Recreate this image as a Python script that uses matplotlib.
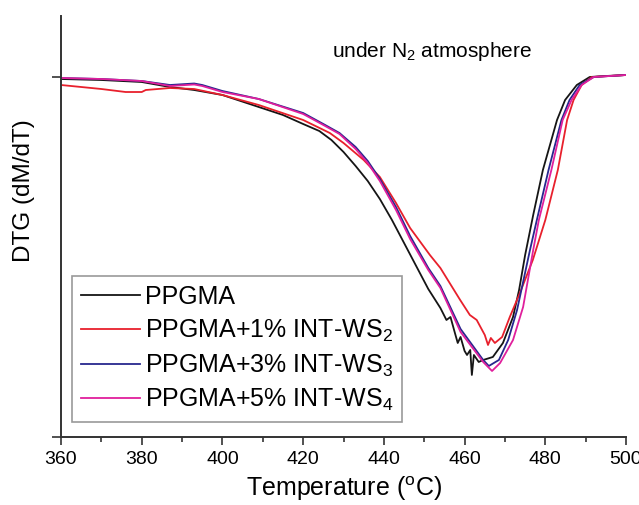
import numpy as np
import matplotlib
matplotlib.use('Agg')
import matplotlib.pyplot as plt
from matplotlib.ticker import MultipleLocator

plt.rcParams['font.family'] = ['Liberation Sans', 'DejaVu Sans']
plt.rcParams['mathtext.fontset'] = 'custom'
plt.rcParams['mathtext.rm'] = 'Liberation Sans'
plt.rcParams['mathtext.it'] = 'Liberation Sans:italic'
plt.rcParams['mathtext.bf'] = 'Liberation Sans:bold'

# DTG curves (arbitrary units, 0 = upper tick)
t_ppgma = [360, 370, 380, 387, 393, 400, 409, 415, 420, 424, 427, 430, 433, 436, 439,
           442, 445, 448, 451, 454, 455.5, 456.5, 457.6, 458.3, 459, 460, 460.6, 461.4,
           461.8, 462.3, 463.5, 464.6, 467, 469.5, 472, 473.5, 475, 477, 479.4, 482.9,
           484.9, 487.8, 491, 495, 500]
dtg_ppgma = [-0.02, -0.03, -0.05, -0.10, -0.13, -0.18, -0.30, -0.38, -0.47, -0.54, -0.63,
             -0.75, -0.89, -1.04, -1.22, -1.43, -1.66, -1.89, -2.12, -2.31, -2.43, -2.40,
             -2.56, -2.66, -2.60, -2.74, -2.78, -2.73, -2.98, -2.78, -2.85, -2.83, -2.80,
             -2.66, -2.40, -2.13, -1.78, -1.38, -0.93, -0.43, -0.23, -0.08, 0.00, 0.01,
             0.02]

t_ws2 = [360, 370, 376, 380, 381, 387, 393, 400, 409, 420, 426.6, 430, 435, 439, 443,
         446.5, 451.4, 454, 458.9, 461.3, 463, 465, 465.8, 466.5, 467.5, 469.3, 471.2,
         473.7, 476.9, 480, 483.1, 485.4, 487, 489, 491.5, 500]
dtg_ws2 = [-0.08, -0.12, -0.15, -0.15, -0.13, -0.11, -0.12, -0.18, -0.28, -0.43, -0.56,
           -0.66, -0.83, -1.00, -1.26, -1.51, -1.78, -1.91, -2.23, -2.38, -2.43, -2.58,
           -2.68, -2.61, -2.66, -2.60, -2.40, -2.16, -1.83, -1.43, -0.93, -0.43, -0.23,
           -0.08, 0.00, 0.02]

t_ws3 = [360, 370, 380, 387, 391, 393, 395, 400, 409, 420, 425, 429, 433, 436, 439, 443,
         446.5, 451, 454, 459, 464.6, 466, 468.5, 470.8, 473, 476.2, 477.9, 480.8, 484,
         486, 488.5, 492, 500]
dtg_ws3 = [-0.01, -0.02, -0.04, -0.08, -0.07, -0.065, -0.08, -0.14, -0.22, -0.36, -0.47,
           -0.56, -0.70, -0.84, -1.02, -1.30, -1.59, -1.91, -2.09, -2.52, -2.83, -2.89,
           -2.83, -2.63, -2.33, -1.73, -1.43, -0.93, -0.43, -0.23, -0.08, 0.00, 0.02]

t_ws4 = [360, 370, 380, 387, 391, 393, 395, 400, 409, 420, 425, 429, 433, 436, 439, 443,
         446.5, 451, 454, 459, 464.6, 466.8, 468.8, 472, 474.5, 477, 478.4, 481.5, 484.3,
         486.5, 489, 492, 500]
dtg_ws4 = [-0.01, -0.02, -0.04, -0.09, -0.08, -0.075, -0.09, -0.15, -0.22, -0.37, -0.48,
           -0.57, -0.72, -0.86, -1.04, -1.33, -1.62, -1.93, -2.11, -2.55, -2.85, -2.94,
           -2.86, -2.63, -2.30, -1.73, -1.43, -0.93, -0.43, -0.23, -0.08, 0.00, 0.02]

labels = ['PPGMA', 'PPGMA+1% INT-WS$_2$', 'PPGMA+3% INT-WS$_3$', 'PPGMA+5% INT-WS$_4$']
colors = ['#151515', '#e8202c', '#27278e', '#e01f9c']

fig = plt.figure(figsize=(6.39, 5.05), dpi=100)
ax = fig.add_axes([0.0955, 0.1347, 0.8842, 0.8336])

series = [(t_ppgma, dtg_ppgma), (t_ws2, dtg_ws2), (t_ws3, dtg_ws3), (t_ws4, dtg_ws4)]
for (t, d), lab, c in zip(series, labels, colors):
    ax.plot(t, d, color=c, lw=1.3, label=lab)

ax.set_xlim(360, 500)
ax.set_ylim(-3.60, 0.61)
ax.xaxis.set_major_locator(MultipleLocator(20))
ax.xaxis.set_minor_locator(MultipleLocator(10))
ax.set_yticks([-3.60, 0.0])
ax.set_yticklabels([])

for s in ['top', 'right']:
    ax.spines[s].set_visible(False)
for s in ['left', 'bottom']:
    ax.spines[s].set_color('#333333')
    ax.spines[s].set_linewidth(1.4)

ax.tick_params(axis='x', which='major', direction='out', length=6, width=1.2,
               color='#333333', labelsize=14, pad=4)
ax.tick_params(axis='x', which='minor', direction='out', length=3.5, width=1.2,
               color='#333333')
ax.tick_params(axis='y', which='major', direction='out', length=6.5, width=1.2,
               color='#333333')

ax.set_xlabel('Temperature ($\\mathregular{^{o}}$C)', fontsize=18, labelpad=5)
ax.set_ylabel('DTG (dM/dT)', fontsize=17.5, va='center')
ax.yaxis.set_label_coords(-0.066, 0.585)

ax.text(0.48, 0.903, 'under N$_2$ atmosphere', transform=ax.transAxes,
        fontsize=15, ha='left', va='baseline')

leg = ax.legend(loc='lower left', bbox_to_anchor=(0.0195, 0.0356), borderaxespad=0,
                fontsize=18, handlelength=2.35, handletextpad=0.2, labelspacing=0.34,
                borderpad=0.35, fancybox=False, framealpha=1, edgecolor='#999999')
leg.get_frame().set_linewidth(1.2)

fig.savefig('out.png', dpi=100)
